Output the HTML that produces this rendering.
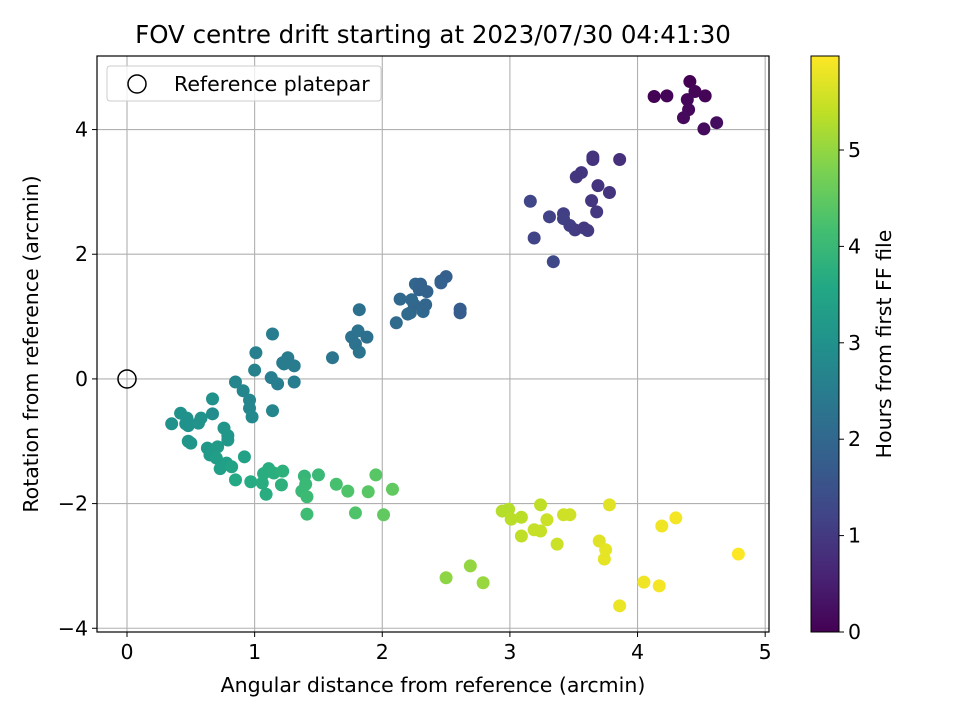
<!DOCTYPE html>
<html><head><meta charset="utf-8"><style>
body{margin:0;background:#fff;font-family:"Liberation Sans","DejaVu Sans",sans-serif}
svg text{font-family:"DejaVu Sans","Liberation Sans",sans-serif}
</style></head><body>
<svg id="c" width="960" height="720" viewBox="0 0 960 720">
<defs><linearGradient id="vir" x1="0" y1="1" x2="0" y2="0">
<stop offset="0" stop-color="#440154"/><stop offset=".1" stop-color="#482475"/><stop offset=".2" stop-color="#414487"/><stop offset=".3" stop-color="#355f8d"/><stop offset=".4" stop-color="#2a788e"/><stop offset=".5" stop-color="#21918c"/><stop offset=".6" stop-color="#22a884"/><stop offset=".7" stop-color="#44bf70"/><stop offset=".8" stop-color="#7ad151"/><stop offset=".9" stop-color="#bddf26"/><stop offset="1" stop-color="#fde725"/>
</linearGradient></defs>
<g id="grid"></g>
<g id="pts"></g>
<rect x="97" y="56" width="672" height="576" fill="none" stroke="#000" stroke-width="1.2"/>
<g id="axes"></g>
<text x="433" y="43" font-size="24.5" text-anchor="middle">FOV centre drift starting at 2023/07/30 04:41:30</text>
<text x="433" y="692" font-size="20.5" text-anchor="middle">Angular distance from reference (arcmin)</text>
<text transform="translate(38,344) rotate(-90)" font-size="20.5" text-anchor="middle">Rotation from reference (arcmin)</text>
<g>
<rect x="107" y="66" width="274" height="35" rx="3" fill="#fff" fill-opacity="0.8" stroke="#ccc"/>
<circle cx="137" cy="84" r="9" fill="none" stroke="#000" stroke-width="1.5"/>
<text x="174" y="91" font-size="20.5">Reference platepar</text>
</g>
<circle cx="127" cy="379" r="9" fill="none" stroke="#000" stroke-width="1.5"/>
<rect x="811" y="56" width="28" height="576" fill="url(#vir)" stroke="#000" stroke-width="1"/>
<g id="cbax"></g>
<text transform="translate(891,344) rotate(-90)" font-size="20.5" text-anchor="middle">Hours from first FF file</text>
</svg>
<script>
const xs=[4.13,4.23,4.41,4.45,4.39,4.40,4.53,4.36,4.52,4.62,
3.16,3.19,3.34,3.31,3.42,3.42,3.47,3.51,3.58,3.61,3.52,3.56,3.65,3.65,3.69,3.64,3.68,3.78,3.86,
1.61,1.76,1.79,1.81,1.82,1.82,1.88,2.11,2.14,2.22,2.25,2.26,2.29,2.30,2.32,2.34,2.35,2.46,2.50,2.46,2.61,2.61,2.23,2.20,
1.14,1.01,1.00,1.13,1.18,1.22,1.26,1.31,1.23,1.31,1.14,0.85,0.91,0.96,0.96,0.98,0.67,0.67,0.35,0.42,0.47,0.48,0.46,0.56,0.58,0.50,0.48,0.63,0.65,0.71,0.76,0.79,0.79,0.70,0.73,0.78,0.92,0.82,
0.85,0.97,1.07,1.11,1.15,1.22,1.09,1.06,1.39,1.40,1.37,1.41,1.41,1.50,1.64,1.73,1.79,1.89,1.95,2.01,2.08,1.21,
2.50,2.69,2.79,2.94,2.99,3.01,3.09,3.09,3.19,3.24,3.24,3.29,3.37,3.42,3.47,3.70,3.74,3.75,3.78,3.86,4.05,4.17,4.19,4.30,4.79];
const ys=[4.53,4.54,4.77,4.61,4.48,4.32,4.54,4.19,4.01,4.11,
2.85,2.26,1.88,2.60,2.65,2.57,2.46,2.39,2.42,2.38,3.24,3.31,3.52,3.56,3.10,2.86,2.68,2.99,3.52,
0.34,0.67,0.56,0.77,0.43,1.11,0.67,0.90,1.28,1.06,1.19,1.52,1.43,1.52,1.08,1.19,1.40,1.57,1.64,1.54,1.12,1.06,1.27,1.04,
0.72,0.42,0.14,0.02,-0.08,0.26,0.34,0.21,0.24,-0.05,-0.51,-0.05,-0.19,-0.34,-0.47,-0.61,-0.32,-0.56,-0.72,-0.55,-0.63,-0.75,-0.72,-0.71,-0.63,-1.03,-1.00,-1.11,-1.22,-1.09,-0.79,-0.91,-0.98,-1.27,-1.44,-1.35,-1.25,-1.41,
-1.62,-1.65,-1.52,-1.44,-1.51,-1.48,-1.85,-1.67,-1.56,-1.69,-1.80,-1.89,-2.17,-1.54,-1.69,-1.80,-2.15,-1.81,-1.54,-2.18,-1.77,-1.70,
-3.19,-3.00,-3.27,-2.12,-2.09,-2.25,-2.52,-2.22,-2.42,-2.44,-2.02,-2.26,-2.65,-2.18,-2.18,-2.60,-2.89,-2.74,-2.02,-3.64,-3.26,-3.32,-2.36,-2.23,-2.81];
const hs=[0.02,0.05,0.0,0.08,0.1,0.12,0.06,0.15,0.18,0.2,
1.25,1.2,1.3,1.15,1.1,1.12,1.08,1.05,1.0,1.02,0.95,0.92,0.85,0.88,0.9,0.95,0.98,0.9,0.8,
2.35,2.25,2.25,2.25,2.3,2.2,2.2,2.05,2.0,2.0,1.95,1.95,1.9,1.9,2.0,1.95,1.9,1.85,1.8,1.85,1.75,1.75,2.0,2.05,
2.5,2.55,2.6,2.5,2.5,2.45,2.45,2.45,2.45,2.5,2.7,2.7,2.7,2.75,2.75,2.8,3.0,2.9,3.0,3.0,3.0,3.0,3.0,3.05,3.05,3.1,3.1,3.2,3.25,3.25,3.1,3.15,3.15,3.3,3.35,3.35,3.4,3.45,
3.6,3.65,3.7,3.7,3.75,3.8,3.7,3.7,3.95,4.0,4.0,4.05,4.1,4.0,4.2,4.3,4.3,4.4,4.4,4.5,4.5,3.8,
4.95,5.0,5.05,5.3,5.3,5.35,5.4,5.35,5.45,5.45,5.4,5.5,5.5,5.55,5.55,5.7,5.75,5.75,5.7,5.8,5.85,5.9,5.85,5.9,5.97];
const xTicks=[0,1,2,3,4,5];
const yTicks=[-4,-2,0,2,4];
const cTicks=[0,1,2,3,4,5];
const X0=-0.235,X1=5.03,Y0=-4.06,Y1=5.18,H1=5.975;
const px=v=>97+(v-X0)/(X1-X0)*672;
const py=v=>632-(v-Y0)/(Y1-Y0)*576;
const pc=v=>632-v/H1*576;
const stops=["#440154","#482475","#414487","#355f8d","#2a788e","#21918c","#22a884","#44bf70","#7ad151","#bddf26","#fde725"];
function hex(c){return [1,3,5].map(i=>parseInt(c.substr(i,2),16));}
function vir(t){t=Math.max(0,Math.min(1,t))*10;const i=Math.min(9,Math.floor(t)),f=t-i;const a=hex(stops[i]),b=hex(stops[i+1]);return `rgb(${a.map((v,k)=>Math.round(v+(b[k]-v)*f)).join(',')})`;}
const NS="http://www.w3.org/2000/svg";
function mk(tag,attrs,parent,txt){const e=document.createElementNS(NS,tag);for(const k in attrs)e.setAttribute(k,attrs[k]);if(txt!==undefined)e.textContent=txt;parent.appendChild(e);return e;}
const grid=document.getElementById('grid'),axes=document.getElementById('axes'),pts=document.getElementById('pts'),cb=document.getElementById('cbax');
xTicks.forEach(t=>{const x=px(t);
const g=mk('line',{x1:x,x2:x,y1:56,y2:632,stroke:'#b0b0b0','stroke-width':1.1},grid);


mk('line',{x1:x,x2:x,y1:632,y2:637,stroke:'#000'},axes);
const l=mk('text',{x:x,y:659,'font-size':20.5,'text-anchor':'middle'},axes,String(t));

});
yTicks.forEach(t=>{const y=py(t);
const g=mk('line',{x1:97,x2:769,y1:y,y2:y,stroke:'#b0b0b0','stroke-width':1.1},grid);


mk('line',{x1:92,x2:97,y1:y,y2:y,stroke:'#000'},axes);
const l=mk('text',{x:88,y:y+7,'font-size':20.5,'text-anchor':'end'},axes,t<0?'\u2212'+(-t):String(t));

});
cTicks.forEach(t=>{const y=pc(t);
mk('line',{x1:839,x2:844,y1:y,y2:y,stroke:'#000'},cb);
const l=mk('text',{x:848,y:y+7,'font-size':20.5},cb,String(t));

});
xs.forEach((v,i)=>{const c=mk('circle',{cx:px(v),cy:py(ys[i]),r:6.5,fill:vir(hs[i]/H1)},pts);

});
</script>
</body></html>
